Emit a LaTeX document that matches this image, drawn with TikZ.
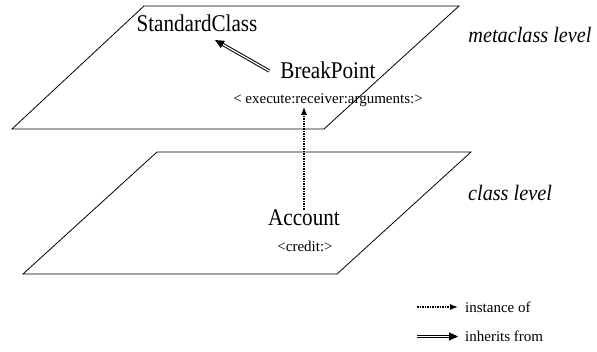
\documentclass[tikz,border=0pt]{standalone}
\usepackage{fontspec}
\setmainfont{Liberation Serif}
\newfontfamily\bigfont[FakeStretch=0.88]{Liberation Serif}
\newfontfamily\levelfont[FakeStretch=0.92]{Liberation Serif}
\usepackage{tikz}
\usetikzlibrary{positioning, arrows.meta, calc}

\begin{document}
\begin{tikzpicture}[x=1pt, y=-1pt,
          plane/.style={line width=0.8pt, line join=miter},
          every node/.style={inner sep=0pt},
          cls/.style={font=\bigfont\fontsize{24}{24}\selectfont},
          msg/.style={font=\fontsize{15}{15}\selectfont},
          level/.style={font=\levelfont\itshape\fontsize{22}{22}\selectfont},
          instance/.style={line width=1.1pt, dash pattern=on 1.6pt off 0.9pt, -{Latex[length=8pt, width=6pt]}},
          inherit/.style={double, double distance=1.3pt, line width=1pt, -{Triangle[length=9pt, width=8pt]}}]
          \useasboundingbox (0,0) rectangle (597,352);

          % the two levels
          \draw[plane] (144,6) -- (459,6) -- (324,129) -- (12,129) -- cycle;
          \draw[plane] (157,152) -- (471,152) -- (337,274) -- (23,274) -- cycle;
          \node[level] (meta) at (530,35) {metaclass level};
          \node[level] (clslevel) at (510,193) {class level};

          \node[cls] (sc) at (197,23) {StandardClass};
          \node[cls] (bp) at (328,70) {BreakPoint};
          \node[msg] (exec) at (328,100) {< execute:receiver:arguments:>};
          \node[cls] (acc) at (304,218) {Account};
          \node[msg] (credit) at (305,246) {<credit:>};

          \coordinate (sctip) at (215,40);
          \draw[inherit] ($(bp.west)+(-11,1)$) -- (sctip);
          \draw[instance] (acc.north) -- (acc.north |- exec.south);

          % legend
          \node[msg, anchor=west] (inst) at (465,307) {instance of};
          \node[msg, anchor=west] (inh) at (465,336) {inherits from};
          \coordinate (instfrom) at (417,307);
          \coordinate (inhfrom) at (417,336.5);
          \draw[instance] (instfrom) -- ($(inst.west)+(-7,0)$);
          \draw[inherit] (inhfrom) -- ($(inh.west)+(-7,0.5)$);
        \end{tikzpicture}
\end{document}
